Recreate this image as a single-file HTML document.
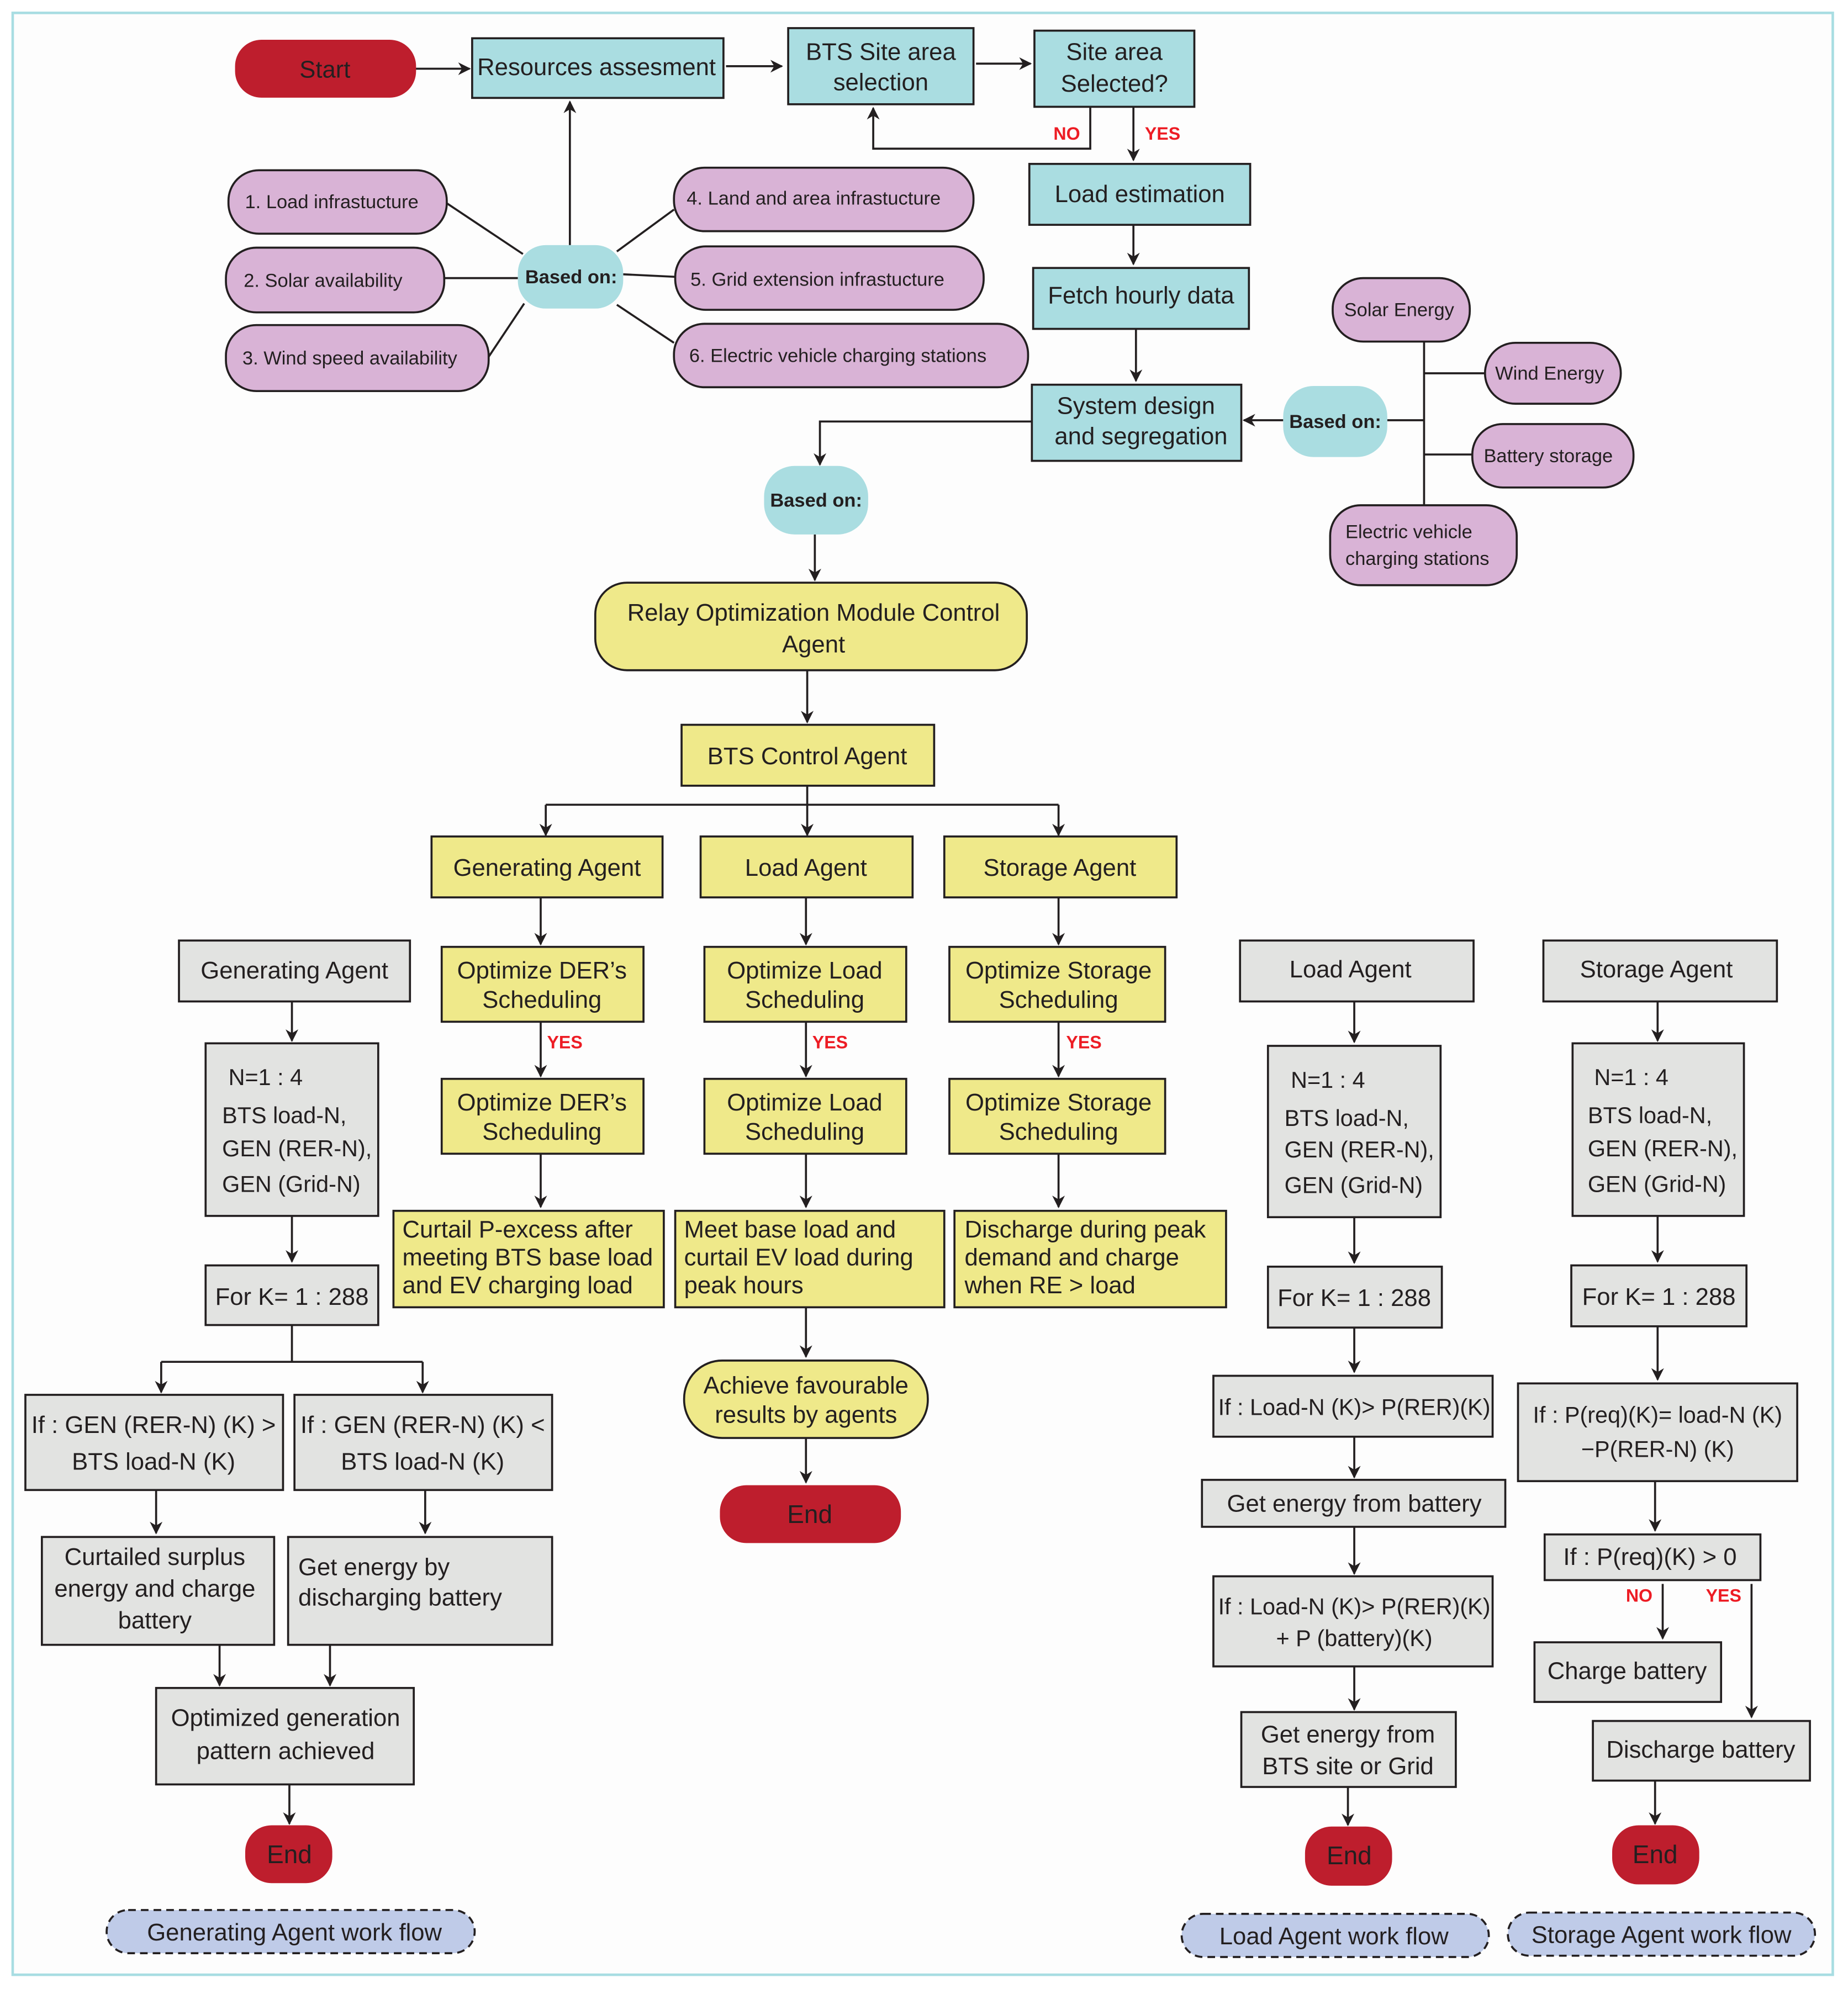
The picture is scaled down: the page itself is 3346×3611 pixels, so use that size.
<!DOCTYPE html>
<html><head><meta charset="utf-8"><style>
html,body{margin:0;padding:0;background:#fff}
svg{display:block}
text{font-family:"Liberation Sans",sans-serif;fill:#231f20}
</style></head><body>
<svg width="3346" height="3611" viewBox="0 0 1456 1571" xmlns="http://www.w3.org/2000/svg">
<defs><marker id="a" markerWidth="10" markerHeight="10" refX="9" refY="5" orient="auto" markerUnits="userSpaceOnUse"><path d="M0,0 L10,5 L0,10 L3,5z" fill="#231f20"/></marker></defs>
<rect x="0" y="0" width="1456" height="1571" fill="#fff"/>
<rect x="10" y="10" width="1434" height="1546" fill="#fdfdfd" stroke="#a8dde2" stroke-width="2"/>
<g stroke="#231f20" stroke-width="1.6" fill="none">
<line x1="327" y1="54" x2="370" y2="54" marker-end="url(#a)"/>
<line x1="572" y1="52" x2="616" y2="52" marker-end="url(#a)"/>
<line x1="769" y1="50" x2="812" y2="50" marker-end="url(#a)"/>
<polyline points="859,84 859,117 688,117 688,85" marker-end="url(#a)"/>
<line x1="893" y1="84" x2="893" y2="126" marker-end="url(#a)"/>
<line x1="893" y1="177" x2="893" y2="208" marker-end="url(#a)"/>
<line x1="895" y1="259" x2="895" y2="300" marker-end="url(#a)"/>
<line x1="1011" y1="331" x2="980" y2="331" marker-end="url(#a)"/>
<line x1="1093" y1="331" x2="1122" y2="331"/>
<line x1="1122" y1="269" x2="1122" y2="398"/>
<line x1="1122" y1="294" x2="1170" y2="294"/>
<line x1="1122" y1="358" x2="1160" y2="358"/>
<polyline points="813,332 646,332 646,366" marker-end="url(#a)"/>
<line x1="642" y1="421" x2="642" y2="457" marker-end="url(#a)"/>
<line x1="636" y1="528" x2="636" y2="569" marker-end="url(#a)"/>
<line x1="636" y1="619" x2="636" y2="658" marker-end="url(#a)"/>
<line x1="430" y1="634" x2="834" y2="634"/>
<line x1="430" y1="634" x2="430" y2="658" marker-end="url(#a)"/>
<line x1="834" y1="634" x2="834" y2="658" marker-end="url(#a)"/>
<line x1="449" y1="193" x2="449" y2="80" marker-end="url(#a)"/>
<line x1="352" y1="160" x2="412" y2="200"/>
<line x1="350" y1="219" x2="408" y2="219"/>
<line x1="385" y1="281" x2="413" y2="239"/>
<line x1="531" y1="165" x2="486" y2="198"/>
<line x1="491" y1="216" x2="532" y2="218"/>
<line x1="486" y1="240" x2="531" y2="270"/>
<line x1="426" y1="707" x2="426" y2="744" marker-end="url(#a)"/>
<line x1="635" y1="707" x2="635" y2="744" marker-end="url(#a)"/>
<line x1="834" y1="707" x2="834" y2="744" marker-end="url(#a)"/>
<line x1="426" y1="805" x2="426" y2="848" marker-end="url(#a)"/>
<line x1="635" y1="805" x2="635" y2="848" marker-end="url(#a)"/>
<line x1="834" y1="805" x2="834" y2="848" marker-end="url(#a)"/>
<line x1="426" y1="909" x2="426" y2="951" marker-end="url(#a)"/>
<line x1="635" y1="909" x2="635" y2="951" marker-end="url(#a)"/>
<line x1="834" y1="909" x2="834" y2="951" marker-end="url(#a)"/>
<line x1="635" y1="1030" x2="635" y2="1069" marker-end="url(#a)"/>
<line x1="635" y1="1133" x2="635" y2="1168" marker-end="url(#a)"/>
<line x1="230" y1="789" x2="230" y2="820" marker-end="url(#a)"/>
<line x1="230" y1="958" x2="230" y2="994" marker-end="url(#a)"/>
<line x1="230" y1="1044" x2="230" y2="1073"/>
<line x1="127" y1="1073" x2="333" y2="1073"/>
<line x1="127" y1="1073" x2="127" y2="1097" marker-end="url(#a)"/>
<line x1="333" y1="1073" x2="333" y2="1097" marker-end="url(#a)"/>
<line x1="123" y1="1174" x2="123" y2="1208" marker-end="url(#a)"/>
<line x1="335" y1="1174" x2="335" y2="1208" marker-end="url(#a)"/>
<line x1="173" y1="1296" x2="173" y2="1328" marker-end="url(#a)"/>
<line x1="260" y1="1296" x2="260" y2="1328" marker-end="url(#a)"/>
<line x1="228" y1="1406" x2="228" y2="1437" marker-end="url(#a)"/>
<line x1="1067" y1="789" x2="1067" y2="821" marker-end="url(#a)"/>
<line x1="1067" y1="959" x2="1067" y2="995" marker-end="url(#a)"/>
<line x1="1067" y1="1046" x2="1067" y2="1081" marker-end="url(#a)"/>
<line x1="1067" y1="1132" x2="1067" y2="1164" marker-end="url(#a)"/>
<line x1="1067" y1="1203" x2="1067" y2="1240" marker-end="url(#a)"/>
<line x1="1067" y1="1313" x2="1067" y2="1347" marker-end="url(#a)"/>
<line x1="1062" y1="1408" x2="1062" y2="1438" marker-end="url(#a)"/>
<line x1="1306" y1="789" x2="1306" y2="820" marker-end="url(#a)"/>
<line x1="1306" y1="958" x2="1306" y2="994" marker-end="url(#a)"/>
<line x1="1306" y1="1045" x2="1306" y2="1087" marker-end="url(#a)"/>
<line x1="1304" y1="1167" x2="1304" y2="1206" marker-end="url(#a)"/>
<line x1="1310" y1="1248" x2="1310" y2="1291" marker-end="url(#a)"/>
<line x1="1380" y1="1248" x2="1380" y2="1353" marker-end="url(#a)"/>
<line x1="1304" y1="1403" x2="1304" y2="1437" marker-end="url(#a)"/>
</g>

<g stroke="#231f20" stroke-width="1.6">
<rect x="186" y="32" width="141" height="44" rx="20" fill="#be1e2d" stroke="#be1e2d"/>
<rect x="372" y="30" width="198" height="47" fill="#aadde1"/>
<rect x="621" y="22" width="146" height="60" fill="#aadde1"/>
<rect x="815" y="24" width="126" height="60" fill="#aadde1"/>
<rect x="811" y="129" width="174" height="48" fill="#aadde1"/>
<rect x="814" y="211" width="170" height="48" fill="#aadde1"/>
<rect x="813" y="303" width="165" height="60" fill="#aadde1"/>
<rect x="1011" y="304" width="82" height="56" rx="24" fill="#aadde1" stroke="none"/>
<rect x="602" y="367" width="82" height="54" rx="24" fill="#aadde1" stroke="none"/>
<rect x="408" y="193" width="83" height="50" rx="22" fill="#aadde1" stroke="none"/>
<g fill="#d9b3d6">
<rect x="180" y="134" width="172" height="50" rx="24"/>
<rect x="178" y="195" width="172" height="51" rx="24"/>
<rect x="178" y="256" width="207" height="52" rx="24"/>
<rect x="531" y="132" width="236" height="50" rx="24"/>
<rect x="532" y="194" width="243" height="50" rx="24"/>
<rect x="531" y="255" width="279" height="50" rx="24"/>
<rect x="1050" y="219" width="108" height="50" rx="24"/>
<rect x="1170" y="270" width="107" height="48" rx="24"/>
<rect x="1160" y="334" width="127" height="50" rx="24"/>
<rect x="1048" y="398" width="147" height="63" rx="24"/>
</g>
<g fill="#efe98a">
<rect x="469" y="459" width="340" height="69" rx="25"/>
<rect x="537" y="571" width="199" height="48"/>
<rect x="340" y="659" width="182" height="48"/>
<rect x="552" y="659" width="167" height="48"/>
<rect x="744" y="659" width="183" height="48"/>
<rect x="348" y="746" width="159" height="59"/>
<rect x="555" y="746" width="159" height="59"/>
<rect x="748" y="746" width="170" height="59"/>
<rect x="348" y="850" width="159" height="59"/>
<rect x="555" y="850" width="159" height="59"/>
<rect x="748" y="850" width="170" height="59"/>
<rect x="310" y="954" width="213" height="76"/>
<rect x="532" y="954" width="212" height="76"/>
<rect x="752" y="954" width="214" height="76"/>
<rect x="539" y="1072" width="192" height="61" rx="30"/>
</g>
<g fill="#be1e2d" stroke="#be1e2d">
<rect x="568" y="1171" width="141" height="44" rx="20"/>
<rect x="194" y="1439" width="67" height="44" rx="20"/>
<rect x="1029" y="1440" width="67" height="45" rx="20"/>
<rect x="1271" y="1439" width="67" height="45" rx="20"/>
</g>
<g fill="#e2e3e1">
<rect x="141" y="741" width="182" height="48"/>
<rect x="162" y="822" width="136" height="136"/>
<rect x="162" y="997" width="136" height="47"/>
<rect x="20" y="1099" width="203" height="75"/>
<rect x="232" y="1099" width="203" height="75"/>
<rect x="33" y="1211" width="183" height="85"/>
<rect x="227" y="1211" width="208" height="85"/>
<rect x="123" y="1330" width="203" height="76"/>
<rect x="977" y="741" width="184" height="48"/>
<rect x="999" y="824" width="136" height="135"/>
<rect x="999" y="998" width="137" height="48"/>
<rect x="956" y="1084" width="220" height="48"/>
<rect x="947" y="1166" width="239" height="37"/>
<rect x="956" y="1242" width="220" height="71"/>
<rect x="978" y="1349" width="169" height="59"/>
<rect x="1216" y="741" width="184" height="48"/>
<rect x="1239" y="822" width="135" height="136"/>
<rect x="1238" y="997" width="138" height="48"/>
<rect x="1196" y="1090" width="220" height="77"/>
<rect x="1217" y="1209" width="170" height="36"/>
<rect x="1209" y="1294" width="147" height="47"/>
<rect x="1255" y="1356" width="171" height="47"/>
</g>
<g fill="#bfcbe8" stroke-dasharray="6,4">
<rect x="84" y="1505" width="290" height="34" rx="17"/>
<rect x="931" y="1508" width="242" height="34" rx="17"/>
<rect x="1188" y="1507" width="242" height="34" rx="17"/>
</g>
</g>

<g font-size="19" text-anchor="middle">
<text x="256" y="61">Start</text>
<text x="470" y="59">Resources assesment</text>
<text x="694" y="47">BTS Site area</text><text x="694" y="71">selection</text>
<text x="878" y="47">Site area</text><text x="878" y="72">Selected?</text>
<text x="898" y="159">Load estimation</text>
<text x="899" y="239">Fetch hourly data</text>
<text x="895" y="326">System design</text><text x="899" y="350">and segregation</text>
<text x="641" y="489">Relay Optimization  Module Control</text><text x="641" y="514">Agent</text>
<text x="636" y="602">BTS Control Agent</text>
<text x="431" y="690">Generating Agent</text>
<text x="635" y="690">Load Agent</text>
<text x="835" y="690">Storage Agent</text>
<text x="427" y="771">Optimize DER’s</text><text x="427" y="794">Scheduling</text>
<text x="634" y="771">Optimize Load</text><text x="634" y="794">Scheduling</text>
<text x="834" y="771">Optimize Storage</text><text x="834" y="794">Scheduling</text>
<text x="427" y="875">Optimize DER’s</text><text x="427" y="898">Scheduling</text>
<text x="634" y="875">Optimize Load</text><text x="634" y="898">Scheduling</text>
<text x="834" y="875">Optimize Storage</text><text x="834" y="898">Scheduling</text>
<text x="635" y="1098">Achieve favourable</text><text x="635" y="1121">results by agents</text>
<text x="638" y="1200" font-size="20">End</text>
<text x="228" y="1468" font-size="20">End</text>
<text x="1063" y="1469" font-size="20">End</text>
<text x="1304" y="1468" font-size="20">End</text>
<text x="232" y="771">Generating Agent</text>
<text x="230" y="1028">For K= 1 : 288</text>
<text x="121" y="1129">If : GEN (RER-N) (K) &gt;</text><text x="121" y="1158">BTS load-N (K)</text>
<text x="333" y="1129">If : GEN (RER-N) (K) &lt;</text><text x="333" y="1158">BTS load-N (K)</text>
<text x="122" y="1233">Curtailed surplus</text><text x="122" y="1258">energy and charge</text><text x="122" y="1283">battery</text>
<text x="225" y="1360">Optimized generation</text><text x="225" y="1386">pattern achieved</text>
<text x="1064" y="770">Load Agent</text>
<text x="1067" y="1029">For K= 1 : 288</text>
<text x="1067" y="1115" font-size="18">If : Load-N (K)&gt; P(RER)(K)</text>
<text x="1067" y="1191">Get energy from battery</text>
<text x="1067" y="1272" font-size="18">If : Load-N (K)&gt; P(RER)(K)</text><text x="1067" y="1297" font-size="18">+ P (battery)(K)</text>
<text x="1062" y="1373">Get energy from</text><text x="1062" y="1398">BTS site or Grid</text>
<text x="1305" y="770">Storage Agent</text>
<text x="1307" y="1028">For K= 1 : 288</text>
<text x="1306" y="1121" font-size="18">If : P(req)(K)= load-N (K)</text><text x="1306" y="1148" font-size="18">−P(RER-N) (K)</text>
<text x="1300" y="1233">If :  P(req)(K) &gt; 0</text>
<text x="1282" y="1323">Charge battery</text>
<text x="1340" y="1385">Discharge battery</text>
<text x="232" y="1529">Generating Agent work flow</text>
<text x="1051" y="1532">Load Agent work flow</text>
<text x="1309" y="1531">Storage Agent work flow</text>
</g>
<g font-size="19">
<text x="317" y="975">Curtail P-excess after</text><text x="317" y="997">meeting BTS base load</text><text x="317" y="1019">and EV charging load</text>
<text x="539" y="975">Meet base load and</text><text x="539" y="997">curtail EV load during</text><text x="539" y="1019">peak hours</text>
<text x="760" y="975">Discharge during peak</text><text x="760" y="997">demand and charge</text><text x="760" y="1019">when RE &gt; load</text>
<text x="235" y="1241">Get energy by</text><text x="235" y="1265">discharging battery</text>
</g>
<g font-size="18">
<text x="180" y="855">N=1 : 4</text><text x="175" y="885">BTS load-N,</text><text x="175" y="911">GEN (RER-N),</text><text x="175" y="939">GEN (Grid-N)</text>
<text x="1017" y="857">N=1 : 4</text><text x="1012" y="887">BTS load-N,</text><text x="1012" y="912">GEN (RER-N),</text><text x="1012" y="940">GEN (Grid-N)</text>
<text x="1256" y="855">N=1 : 4</text><text x="1251" y="885">BTS load-N,</text><text x="1251" y="911">GEN (RER-N),</text><text x="1251" y="939">GEN (Grid-N)</text>
</g>
<g font-size="15">
<text x="193" y="164">1.  Load infrastucture</text>
<text x="192" y="226">2.  Solar availability</text>
<text x="191" y="287">3.  Wind speed availability</text>
<text x="541" y="161">4.  Land and area infrastucture</text>
<text x="544" y="225">5.  Grid extension infrastucture</text>
<text x="543" y="285">6.  Electric vehicle charging stations</text>
<text x="1059" y="249">Solar Energy</text>
<text x="1178" y="299">Wind Energy</text>
<text x="1169" y="364">Battery storage</text>
<text x="1060" y="424">Electric vehicle</text><text x="1060" y="445">charging stations</text>
</g>
<g font-size="15" font-weight="bold" text-anchor="middle">
<text x="450" y="223">Based on:</text>
<text x="1052" y="337">Based on:</text>
<text x="643" y="399">Based on:</text>
</g>
<g font-size="14" font-weight="bold">
<text x="830" y="110" style="fill:#ed1c24">NO</text>
<text x="902" y="110" style="fill:#ed1c24">YES</text>
<text x="431" y="826" style="fill:#ed1c24">YES</text>
<text x="640" y="826" style="fill:#ed1c24">YES</text>
<text x="840" y="826" style="fill:#ed1c24">YES</text>
<text x="1281" y="1262" style="fill:#ed1c24">NO</text>
<text x="1344" y="1262" style="fill:#ed1c24">YES</text>
</g>
</svg>
</body></html>
